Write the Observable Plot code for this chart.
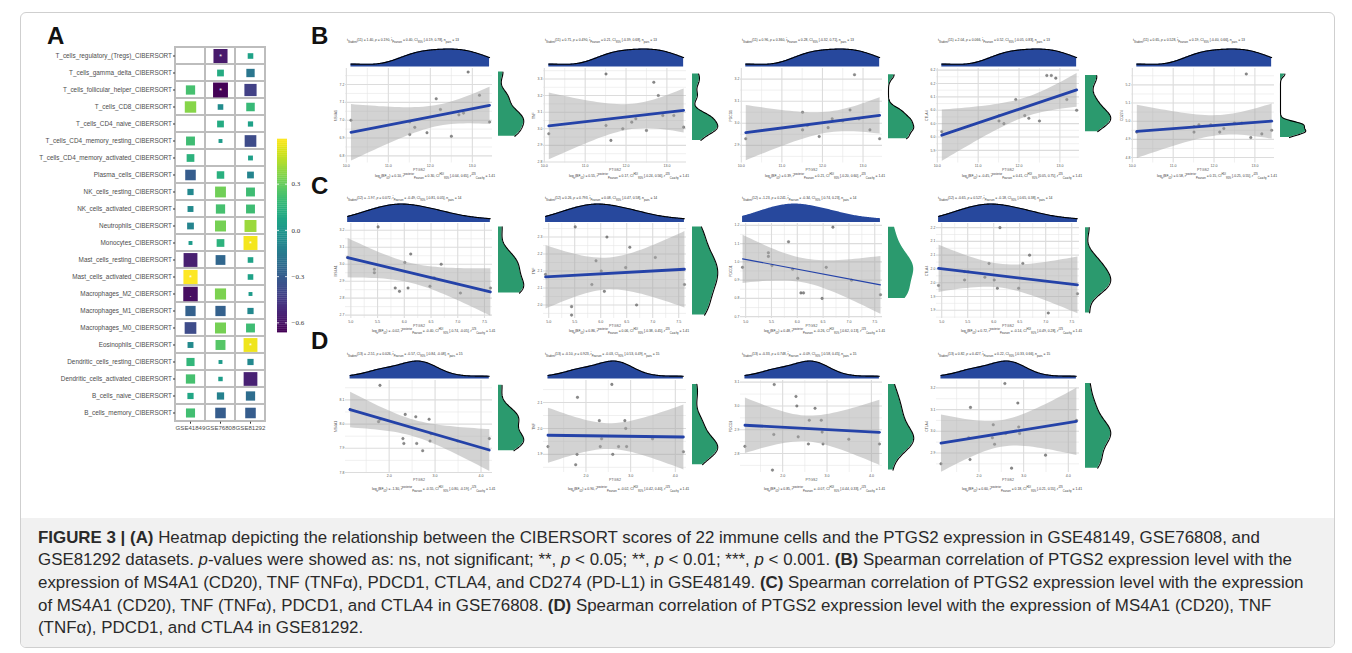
<!DOCTYPE html>
<html><head><meta charset="utf-8">
<script src="https://cdn.jsdelivr.net/npm/d3@7"></script>
<script src="https://cdn.jsdelivr.net/npm/@observablehq/plot@0.6"></script>
<style>
body{margin:0;background:#fff;font-family:"Liberation Sans",Arial,sans-serif;}
#fig{position:relative;width:1352px;height:653px;overflow:hidden;background:#fff;}
.frame{position:absolute;left:20px;top:12px;width:1315px;height:636px;border:1px solid #cfcfcf;border-radius:6px;box-sizing:border-box;overflow:hidden;}
.capbg{position:absolute;left:0;right:0;top:505px;bottom:0;background:#f1f1f1;}
.plab{position:absolute;font-weight:bold;font-size:24px;color:#111;line-height:1;}
.tiny{position:absolute;font-size:3.4px;white-space:nowrap;color:#333;line-height:1;}
.tiny sub,.tiny sup{font-size:2.6px;}
.caption{position:absolute;left:38px;top:526.5px;font-size:16.9px;line-height:22.7px;color:#2a2a2a;white-space:nowrap;}
</style></head><body><div id="fig"><div class="frame"><div class="capbg"></div></div></div>
<script>
// ---------------- Panel A data ----------------
const immuneCells = [
 "T_cells_regulatory_(Tregs)_CIBERSORT","T_cells_gamma_delta_CIBERSORT","T_cells_follicular_helper_CIBERSORT",
 "T_cells_CD8_CIBERSORT","T_cells_CD4_naive_CIBERSORT","T_cells_CD4_memory_resting_CIBERSORT",
 "T_cells_CD4_memory_activated_CIBERSORT","Plasma_cells_CIBERSORT","NK_cells_resting_CIBERSORT",
 "NK_cells_activated_CIBERSORT","Neutrophils_CIBERSORT","Monocytes_CIBERSORT","Mast_cells_resting_CIBERSORT",
 "Mast_cells_activated_CIBERSORT","Macrophages_M2_CIBERSORT","Macrophages_M1_CIBERSORT","Macrophages_M0_CIBERSORT",
 "Eosinophils_CIBERSORT","Dendritic_cells_resting_CIBERSORT","Dendritic_cells_activated_CIBERSORT",
 "B_cells_naive_CIBERSORT","B_cells_memory_CIBERSORT"];
const datasets = ["GSE41849","GSE76808","GSE81292"];
const rGSE41849 = [null,null,0.22,0.36,null,0.20,0.14,-0.30,-0.08,-0.07,-0.10,0.02,-0.56,0.59,-0.62,-0.28,-0.38,-0.07,0.16,0.22,0.08,0.21];
const rGSE76808 = [-0.58,0.10,-0.66,-0.06,0.10,0.02,null,0.13,0.32,0.22,0.33,0.14,-0.25,null,0.34,-0.28,0.33,0.26,0.02,0.03,-0.12,-0.30];
const rGSE81292 = [0.06,-0.17,-0.42,0.18,0.05,-0.38,0.04,-0.10,0.20,0.20,0.40,0.57,0.06,0.06,0.02,-0.08,0.20,0.56,-0.08,-0.55,-0.22,-0.30];
const starCells = [
 ["T_cells_regulatory_(Tregs)_CIBERSORT","GSE76808","*"],["T_cells_follicular_helper_CIBERSORT","GSE76808","*"],
 ["Monocytes_CIBERSORT","GSE81292","*"],["Mast_cells_activated_CIBERSORT","GSE41849","*"],
 ["Eosinophils_CIBERSORT","GSE81292","*"],["Macrophages_M2_CIBERSORT","GSE41849","."]];
const colorTicks = [-0.6,-0.3,0.0,0.3];
const colorLimits = [-0.665,0.59];

// ---------------- Panels B-D data ----------------
const ptgs2_GSE48149 = [10.11,11.51,11.51,11.63,11.92,12.14,12.24,12.50,12.68,12.79,12.90,13.17,13.41];
const ms4a1_GSE48149 = [7.00,6.99,6.92,6.96,6.93,7.12,7.06,6.91,7.03,7.04,7.27,7.14,6.99];
const tnf_GSE48149   = [2.97,3.33,3.02,2.93,3.00,3.04,3.06,2.99,3.28,3.20,3.08,3.08,3.01];
const pdcd1_GSE48149 = [2.93,3.05,2.97,2.99,2.94,2.98,3.02,3.01,3.06,3.22,3.02,2.97,2.93];
const ctla4_GSE48149 = [5.97,6.01,6.03,6.00,6.09,6.03,6.02,6.01,6.18,6.18,6.17,6.09,6.05];
const cd274_GSE48149 = [4.94,4.94,4.97,4.98,4.98,4.94,4.96,4.99,4.99,5.26,4.91,4.93,4.95];

const ptgs2_GSE76808 = [4.94,5.44,5.44,5.51,5.83,5.91,6.01,6.07,6.12,6.48,6.56,6.69,7.05,7.61];
const ms4a1_GSE76808 = [3.04,2.97,2.95,3.22,2.86,2.84,3.01,2.86,3.06,2.87,2.92,3.00,2.83,2.86];
const tnf_GSE76808   = [2.14,2.045,2.02,2.28,2.11,2.18,2.15,2.09,2.25,2.16,2.22,2.05,2.19,2.11];
const pdcd1_GSE76808 = [0.97,1.05,1.03,0.98,1.11,0.96,0.91,0.83,0.83,0.80,0.97,1.19,0.90,0.82];
const ctla4_GSE76808 = [1.99,2.01,2.04,2.04,2.02,2.07,2.01,1.98,2.20,1.98,2.07,2.10,1.89,1.96];

const ptgs2_GSE81292 = [1.15,1.77,1.80,1.81,2.30,2.32,2.35,2.58,2.60,2.73,2.87,2.89,2.91,3.49,4.18];
const ms4a1_GSE81292 = [8.06,8.01,8.16,8.02,7.94,7.92,8.04,8.03,7.92,7.89,8.02,7.93,7.96,7.93,7.94];
const tnf_GSE81292   = [1.93,1.86,1.90,2.12,2.03,1.93,1.96,2.17,1.90,1.93,2.03,2.00,1.93,1.96,1.91];
const pdcd1_GSE81292 = [2.83,2.73,2.88,3.09,3.04,3.00,2.87,2.84,2.94,2.99,2.94,2.89,2.84,2.86,2.84];
const ctla4_GSE81292 = [2.85,2.97,2.87,3.11,2.97,3.03,2.94,3.22,2.99,2.83,3.13,3.02,2.99,2.89,3.05];

// y-axis limits of each scatter panel
const yLimits = {
 B1:[6.76,7.29], B2:[2.794,3.363], B3:[2.82,3.248], B4:[5.853,6.206], B5:[4.77,5.29],
 C1:[2.68,3.24], C2:[2.01,2.29], C3:[0.69,1.21], C4:[1.87,2.215],
 D1:[7.80,8.18], D2:[1.83,2.185], D3:[2.72,3.107], D4:[2.81,3.234]};
const xLimits = {B:[9.98,13.48], C:[4.90,7.65], D:[1.05,4.25]};

// statistics text: [df, t, p, r, ciLo, ciHi, n, logBF, rPost, hdiLo, hdiHi]
const stats = {
 B1:[11,"1.40","0.190","0.40","-0.19","0.78",13,"0.10","0.30","-0.04","0.65"],
 B2:[11,"0.71","0.490","0.21","-0.39","0.68",13,"0.55","0.17","-0.24","0.56"],
 B3:[11,"0.96","0.360","0.28","-0.32","0.71",13,"0.39","0.21","-0.20","0.60"],
 B4:[11,"2.04","0.066","0.52","-0.05","0.83",13,"-0.45","0.41","0.05","0.75"],
 B5:[11,"0.65","0.528","0.19","-0.40","0.66",13,"0.58","0.15","-0.25","0.55"],
 C1:[12,"-1.97","0.072","-0.49","-0.81","0.05",14,"-0.02","-0.40","-0.74","-0.05"],
 C2:[12,"0.26","0.793","0.08","-0.47","0.58",14,"0.86","0.06","-0.38","0.45"],
 C3:[12,"-1.23","0.241","-0.34","-0.74","0.23",14,"0.48","-0.26","-0.62","0.13"],
 C4:[12,"-0.65","0.527","-0.18","-0.65","0.38",14,"0.72","-0.14","-0.49","0.28"],
 D1:[13,"-2.51","0.026","-0.57","-0.84","-0.08",15,"-1.30","-0.55","-0.80","-0.19"],
 D2:[13,"-0.10","0.923","-0.03","-0.53","0.49",15,"0.90","-0.02","-0.42","0.40"],
 D3:[13,"-0.33","0.748","-0.09","-0.58","0.45",15,"0.85","-0.07","-0.44","0.33"],
 D4:[13,"0.82","0.427","0.22","-0.33","0.66",15,"0.60","0.18","-0.21","0.55"]};

// ---------------- helpers ----------------
const fig = document.getElementById("fig");
function put(el, left, top){el.style.position="absolute";el.style.left=left+"px";el.style.top=top+"px";fig.appendChild(el);return el;}
function addDiv(html, cls, left, top, extra){const d=document.createElement("div");d.className=cls;d.innerHTML=html;if(extra)Object.assign(d.style,extra);return put(d,left,top);}
function nrd0(v){const sd=d3.deviation(v);const iqr=d3.quantile(v,0.75)-d3.quantile(v,0.25);let lo=Math.min(sd,iqr/1.34);if(!(lo>0))lo=sd||1;return 0.9*lo*Math.pow(v.length,-0.2);}
function kde(v){const bw=nrd0(v);const [a,b]=d3.extent(v);const n=120;
  return d3.range(n+1).map(i=>{const x=a+(b-a)*i/n;return {v:x,d:d3.mean(v,s=>Math.exp(-0.5*((x-s)/bw)**2))/(bw*Math.sqrt(2*Math.PI))};});}
function minorTicks(t,dom){const s=t[1]-t[0];const out=[];for(let i=-1;i<t.length;i++){const m=t[0]+s*(i+0.5);if(m>dom[0]&&m<dom[1])out.push(m);}return out;}

const blueFill="#27489d", greenFill="#2b9a6e", lineBlue="#2442a8";

// ---------------- labels ----------------
addDiv("A","plab",47,24);
addDiv("B","plab",311,24);
addDiv("C","plab",311,174);
addDiv("D","plab",311,329);

// ---------------- Panel A heatmap ----------------
const rCols=[rGSE41849,rGSE76808,rGSE81292];
const heat=[];
immuneCells.forEach((c,i)=>datasets.forEach((ds,j)=>heat.push({cell:c,ds,rho:rCols[j][i]})));
const stars=starCells.map(([cell,ds,s])=>({cell,ds,s}));
const hmTop=45.8, hmBottom=421.5, hmLeft=175, hmRight=265;
const heatSvg=Plot.plot({
  width:hmRight-hmLeft+130+3, height:hmBottom-hmTop+16,
  marginLeft:130, marginRight:3, marginTop:0, marginBottom:16,
  style:{overflow:"visible",fontFamily:"Liberation Sans, Arial, sans-serif"},
  x:{domain:datasets,padding:0}, y:{domain:immuneCells,padding:0},
  color:{type:"linear",scheme:"viridis",domain:colorLimits},
  r:{type:"sqrt",domain:[0,0.66],range:[0.9,8.4]},
  marks:[
    Plot.cell(heat,{x:"ds",y:"cell",fill:"white",stroke:"#bdbdbd",strokeWidth:2}),
    Plot.dot(heat.filter(d=>d.rho!=null),{x:"ds",y:"cell",symbol:"square",r:d=>Math.abs(d.rho),fill:"rho",stroke:"none"}),
    Plot.text(stars,{x:"ds",y:"cell",text:"s",fill:"white",fontSize:7,dy:1}),
    Plot.axisY({tickSize:2,tickPadding:1.5,fontSize:6.4,fill:"#4d4d4d",stroke:"#333",label:null}),
    Plot.axisX({tickSize:2,tickPadding:1,fontSize:6.1,fill:"#4d4d4d",stroke:"#333",label:null})
  ]});
put(heatSvg,hmLeft-130,hmTop);

// colour bar
const cbTop=139.3, cbBottom=332.7;
const cbSteps=d3.range(100).map(i=>[colorLimits[0]+(colorLimits[1]-colorLimits[0])*i/100,colorLimits[0]+(colorLimits[1]-colorLimits[0])*(i+1)/100]);
const cbSvg=Plot.plot({
  width:40,height:cbBottom-cbTop,marginLeft:0,marginRight:30,marginTop:0,marginBottom:0,
  style:{overflow:"visible",fontFamily:"Liberation Serif, serif"},
  x:{domain:[0,1],axis:null}, y:{domain:colorLimits},
  color:{type:"linear",scheme:"viridis",domain:colorLimits},
  marks:[
    Plot.rect(cbSteps,{x1:0,x2:1,y1:d=>d[0],y2:d=>d[1]+0.002,fill:d=>(d[0]+d[1])/2}),
    Plot.ruleY(colorTicks,{x1:0,x2:0.2,stroke:"white",strokeWidth:0.8}),
    Plot.ruleY(colorTicks,{x1:0.8,x2:1,stroke:"white",strokeWidth:0.8}),
    Plot.axisY({anchor:"right",ticks:colorTicks,tickFormat:d3.format(".1f"),tickSize:0,tickPadding:4,fontSize:7,fill:"#333",label:null})
  ]});
put(cbSvg,276.7,cbTop);

// ---------------- scatter panels ----------------
const cols=[[345,492],[543,686],[740,882],[936,1079],[1131,1274]];
const rows={
  B:{dens:[48,66.5],main:[67.5,162],sub:39,cap:174},
  C:{dens:[203,222],main:[223,318],sub:196.5,cap:328.5},
  D:{dens:[360,378.5],main:[380,472],sub:352.5,cap:486.5}};
const panels=[
  {id:"B1",row:"B",col:0,x:ptgs2_GSE48149,y:ms4a1_GSE48149,gene:"MS4A1"},
  {id:"B2",row:"B",col:1,x:ptgs2_GSE48149,y:tnf_GSE48149,gene:"TNF"},
  {id:"B3",row:"B",col:2,x:ptgs2_GSE48149,y:pdcd1_GSE48149,gene:"PDCD1"},
  {id:"B4",row:"B",col:3,x:ptgs2_GSE48149,y:ctla4_GSE48149,gene:"CTLA4"},
  {id:"B5",row:"B",col:4,x:ptgs2_GSE48149,y:cd274_GSE48149,gene:"CD274"},
  {id:"C1",row:"C",col:0,x:ptgs2_GSE76808,y:ms4a1_GSE76808,gene:"MS4A1"},
  {id:"C2",row:"C",col:1,x:ptgs2_GSE76808,y:tnf_GSE76808,gene:"TNF"},
  {id:"C3",row:"C",col:2,x:ptgs2_GSE76808,y:pdcd1_GSE76808,gene:"PDCD1",thin:true},
  {id:"C4",row:"C",col:3,x:ptgs2_GSE76808,y:ctla4_GSE76808,gene:"CTLA4"},
  {id:"D1",row:"D",col:0,x:ptgs2_GSE81292,y:ms4a1_GSE81292,gene:"MS4A1"},
  {id:"D2",row:"D",col:1,x:ptgs2_GSE81292,y:tnf_GSE81292,gene:"TNF"},
  {id:"D3",row:"D",col:2,x:ptgs2_GSE81292,y:pdcd1_GSE81292,gene:"PDCD1"},
  {id:"D4",row:"D",col:3,x:ptgs2_GSE81292,y:ctla4_GSE81292,gene:"CTLA4"}];

panels.forEach(p=>{
  const [L,R]=cols[p.col]; const g=rows[p.row];
  const [T,B]=g.main; const xDom=xLimits[p.row]; const yDom=yLimits[p.id];
  const data=p.x.map((v,i)=>({x:v,y:p.y[i]}));
  const xt=d3.ticks(xDom[0],xDom[1],4), yt=d3.ticks(yDom[0],yDom[1],5);
  const ML=14, MB=16;
  const main=Plot.plot({
    width:R-L+ML,height:B-T+MB,marginLeft:ML,marginRight:0,marginTop:0,marginBottom:MB,
    style:{overflow:"visible",fontFamily:"Liberation Sans, Arial, sans-serif"},
    x:{domain:xDom}, y:{domain:yDom},
    marks:[
      Plot.gridX(minorTicks(xt,xDom),{stroke:"#e6e6e6",strokeOpacity:1,strokeWidth:0.6}),
      Plot.gridY(minorTicks(yt,yDom),{stroke:"#e6e6e6",strokeOpacity:1,strokeWidth:0.6}),
      Plot.gridX(xt,{stroke:"#dcdcdc",strokeOpacity:1,strokeWidth:1.1}),
      Plot.gridY(yt,{stroke:"#dcdcdc",strokeOpacity:1,strokeWidth:1.1}),
      Plot.dot(data,{x:"x",y:"y",r:1.3,fill:"#8a8a8a",stroke:"#555",strokeWidth:0.3}),
      Plot.linearRegressionY(data,{x:"x",y:"y",stroke:lineBlue,strokeWidth:p.thin?1.2:2.8,fill:"#a8a8a8",fillOpacity:0.5,clip:true}),
      Plot.axisX({ticks:xt,tickSize:0,tickPadding:1.5,fontSize:3.6,fill:"#555",label:"PTGS2",labelAnchor:"center",labelArrow:"none",labelOffset:8}),
      Plot.axisY({ticks:yt,tickFormat:d3.format(".1f"),tickSize:0,tickPadding:1.2,fontSize:3.4,fill:"#555",label:p.gene,labelAnchor:"center",labelArrow:"none",labelOffset:11})
    ]});
  put(main,L-ML,T);
  // top marginal density
  const dx=kde(p.x); const [dT,dB]=g.dens;
  const outline=p.thin?"none":"#000";
  const top=Plot.plot({width:R-L,height:dB-dT,margin:0,style:{overflow:"visible"},
    x:{domain:xDom,axis:null}, y:{domain:[0,d3.max(dx,d=>d.d)*1.03],axis:null},
    marks:[Plot.areaY(dx,{x:"v",y:"d",fill:blueFill}),
           Plot.lineY(dx,{x:"v",y:"d",stroke:outline,strokeWidth:1.1})]});
  put(top,L,dT);
  // right marginal density
  const dy=kde(p.y);
  const right=Plot.plot({width:26,height:B-T,margin:0,style:{overflow:"visible"},
    y:{domain:yDom,axis:null}, x:{domain:[0,d3.max(dy,d=>d.d)*1.03],axis:null},
    marks:[Plot.areaX(dy,{y:"v",x:"d",fill:greenFill}),
           Plot.lineX(dy,{y:"v",x:"d",stroke:outline,strokeWidth:1.1})]});
  put(right,R+6,T);
  // statistics texts
  const s=stats[p.id];
  addDiv(`t<sub>Student</sub>(${s[0]}) = ${s[1]}, <i>p</i> = ${s[2]}, r̂<sub>Pearson</sub> = ${s[3]}, CI<sub>95%</sub> [${s[4]}, ${s[5]}], n<sub>pairs</sub> = ${s[6]}`,"tiny",L+2,g.sub);
  const cap=addDiv(`log<sub>e</sub>(BF<sub>01</sub>) = ${s[7]}, r̂<sup>posterior</sup><sub>Pearson</sub> = ${s[8]}, CI<sup>HDI</sup><sub>95%</sub> [${s[9]}, ${s[10]}], r<sup>JZS</sup><sub>Cauchy</sub> = 1.41`,"tiny",0,g.cap);
  cap.style.left=(R+3-cap.offsetWidth)+"px";
});

// ---------------- caption ----------------
addDiv(`<b>FIGURE 3 | (A)</b> Heatmap depicting the relationship between the CIBERSORT scores of 22 immune cells and the PTGS2 expression in GSE48149, GSE76808, and<br>`+
`GSE81292 datasets. <i>p</i>-values were showed as: ns, not significant; **, <i>p</i> &lt; 0.05; **, <i>p</i> &lt; 0.01; ***, <i>p</i> &lt; 0.001. <b>(B)</b> Spearman correlation of PTGS2 expression level with the<br>`+
`expression of MS4A1 (CD20), TNF (TNFα), PDCD1, CTLA4, and CD274 (PD-L1) in GSE48149. <b>(C)</b> Spearman correlation of PTGS2 expression level with the expression<br>`+
`of MS4A1 (CD20), TNF (TNFα), PDCD1, and CTLA4 in GSE76808. <b>(D)</b> Spearman correlation of PTGS2 expression level with the expression of MS4A1 (CD20), TNF<br>`+
`(TNFα), PDCD1, and CTLA4 in GSE81292.`,"caption",38,526.5);
</script></body></html>
